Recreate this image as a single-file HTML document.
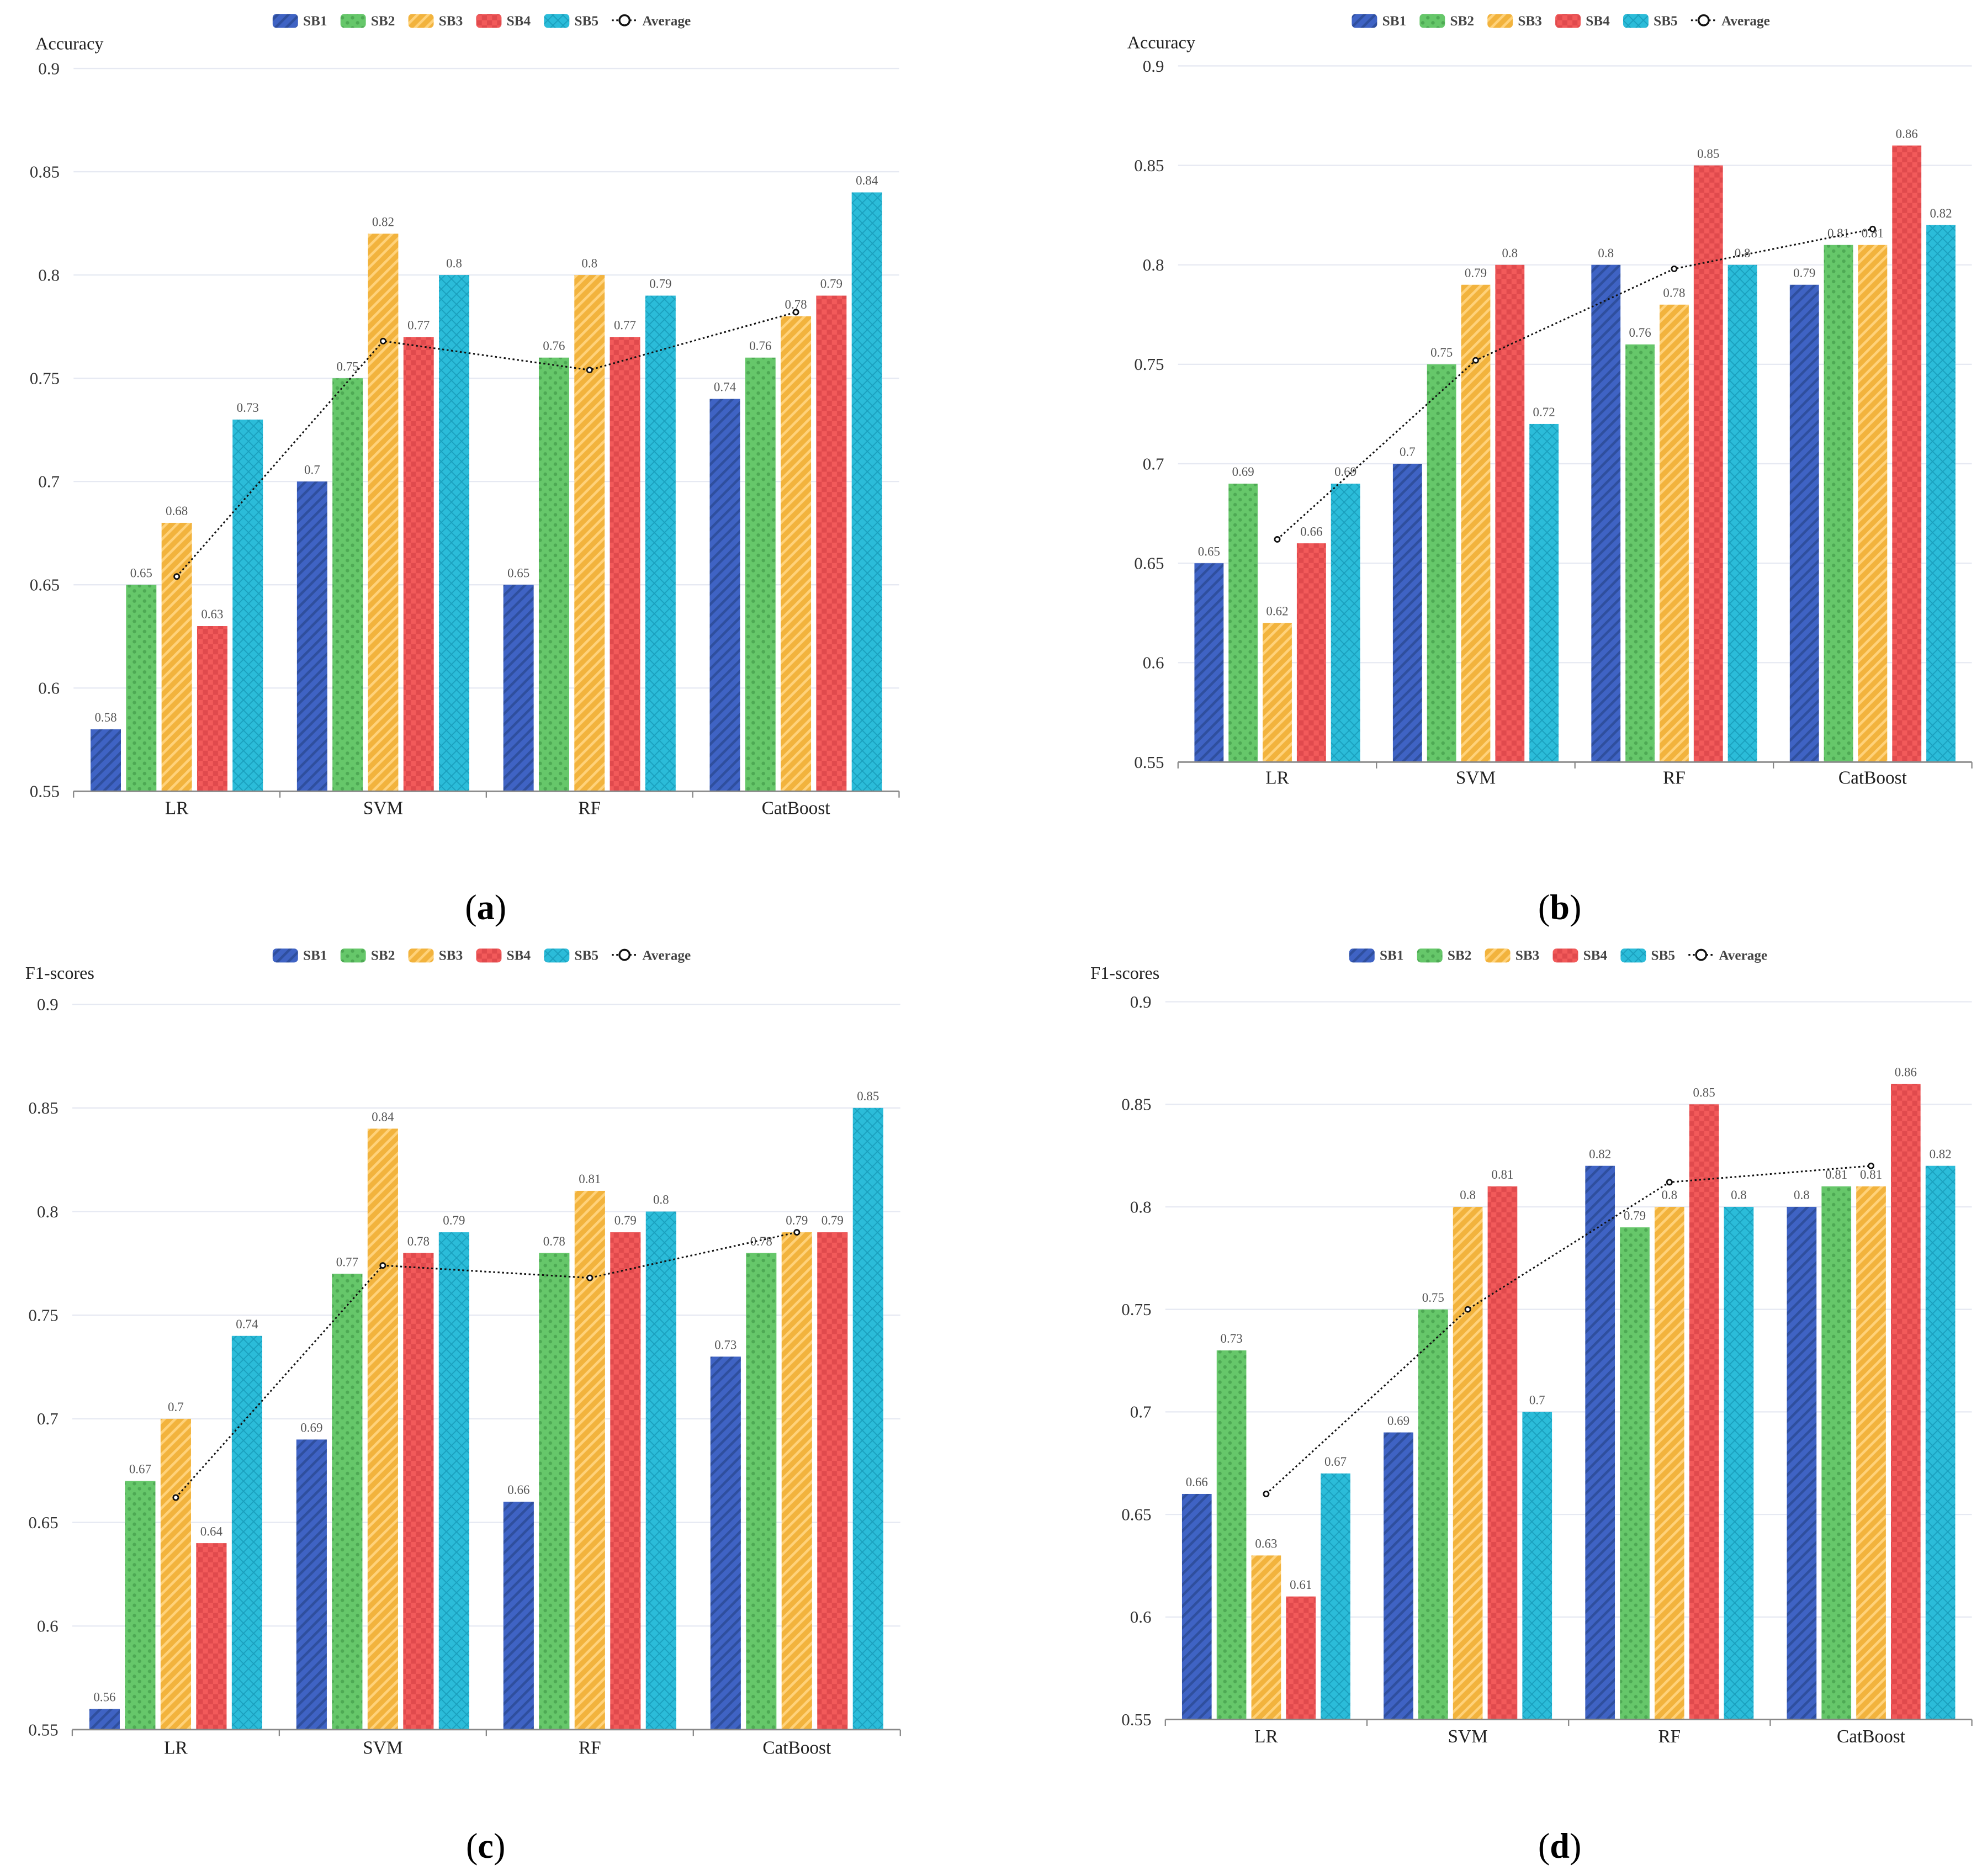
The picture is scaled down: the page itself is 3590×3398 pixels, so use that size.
<!DOCTYPE html>
<html><head><meta charset="utf-8"><style>
html,body{margin:0;padding:0;background:#fff;}
svg{display:block;}
svg text{font-family:"Liberation Serif","Times New Roman",serif;}
</style></head><body>
<svg id="fig" width="3590" height="3398" viewBox="0 0 1563 1479.4" xmlns="http://www.w3.org/2000/svg" font-family="Liberation Serif, serif">
<defs>
<pattern id="p0" width="6" height="6" patternUnits="userSpaceOnUse" patternTransform="rotate(-45)"><rect width="6" height="6" fill="#3f63c4"/><rect width="6" height="2" fill="#2f4f9e"/></pattern>
<pattern id="p1" width="8" height="8" patternUnits="userSpaceOnUse"><rect width="8" height="8" fill="#66c76a"/><circle cx="2" cy="2" r="1.4" fill="#4ea954"/><circle cx="6" cy="6" r="1.4" fill="#4ea954"/></pattern>
<pattern id="p2" width="6" height="6" patternUnits="userSpaceOnUse" patternTransform="rotate(45)"><rect width="6" height="6" fill="#f2b33d"/><rect width="2" height="6" fill="#ffd27a"/></pattern>
<pattern id="p3" width="8" height="8" patternUnits="userSpaceOnUse"><rect width="8" height="8" fill="#f25a5a"/><rect width="4" height="4" fill="#e04a4d"/><rect x="4" y="4" width="4" height="4" fill="#e04a4d"/></pattern>
<pattern id="p4" width="8" height="8" patternUnits="userSpaceOnUse"><rect width="8" height="8" fill="#2bbcd9"/><path d="M0 0L8 8M8 0L0 8" stroke="#1a9fbd" stroke-width="0.8"/></pattern>
</defs>
</svg>
<script>
const categories=["LR","SVM","RF","CatBoost"];
const seriesNames=["SB1","SB2","SB3","SB4","SB5"];
const ticks=[0.55,0.6,0.65,0.7,0.75,0.8,0.85,0.9];
const aSB1=[0.58,0.7,0.65,0.74],aSB2=[0.65,0.75,0.76,0.76],aSB3=[0.68,0.82,0.8,0.78],aSB4=[0.63,0.77,0.77,0.79],aSB5=[0.73,0.8,0.79,0.84],aAvg=[0.654,0.768,0.754,0.782];
const bSB1=[0.65,0.7,0.8,0.79],bSB2=[0.69,0.75,0.76,0.81],bSB3=[0.62,0.79,0.78,0.81],bSB4=[0.66,0.8,0.85,0.86],bSB5=[0.69,0.72,0.8,0.82],bAvg=[0.662,0.752,0.798,0.818];
const cSB1=[0.56,0.69,0.66,0.73],cSB2=[0.67,0.77,0.78,0.78],cSB3=[0.7,0.84,0.81,0.79],cSB4=[0.64,0.78,0.79,0.79],cSB5=[0.74,0.79,0.8,0.85],cAvg=[0.662,0.774,0.768,0.79];
const dSB1=[0.66,0.69,0.82,0.8],dSB2=[0.73,0.75,0.79,0.81],dSB3=[0.63,0.8,0.8,0.81],dSB4=[0.61,0.81,0.85,0.86],dSB5=[0.67,0.7,0.8,0.82],dAvg=[0.66,0.75,0.812,0.82];
const NS="http://www.w3.org/2000/svg";
const svg=document.getElementById('fig');
function mk(tag,attrs,parent,txt){const e=document.createElementNS(NS,tag);for(const k in attrs)e.setAttribute(k,attrs[k]);if(tag==='text')e.setAttribute('font-family','Liberation Serif, serif');if(txt!==undefined)e.textContent=txt;(parent||svg).appendChild(e);return e;}
const panels=[
 {id:'a',x0:58,x1:709,yTop:54,yBot:624,catY:637,title:'Accuracy',tx:28,ty:34,legY:16,legX:383,lab:'(a)',lx:383,ly:716,s:[aSB1,aSB2,aSB3,aSB4,aSB5],avg:aAvg},
 {id:'b',x0:929,x1:1555,yTop:52,yBot:601,catY:613,title:'Accuracy',tx:889,ty:33,legY:16,legX:1234,lab:'(b)',lx:1230,ly:716,s:[bSB1,bSB2,bSB3,bSB4,bSB5],avg:bAvg},
 {id:'c',x0:57,x1:710,yTop:792,yBot:1364,catY:1378,title:'F1-scores',tx:20,ty:767,legY:753,legX:383,lab:'(c)',lx:383,ly:1456,s:[cSB1,cSB2,cSB3,cSB4,cSB5],avg:cAvg},
 {id:'d',x0:919,x1:1555,yTop:790,yBot:1356,catY:1369,title:'F1-scores',tx:860,ty:767,legY:753,legX:1232,lab:'(d)',lx:1230,ly:1456,s:[dSB1,dSB2,dSB3,dSB4,dSB5],avg:dAvg}];
panels.forEach(p=>{
 const g=mk('g',{});
 
 
 const y=v=>p.yBot-(v-0.55)/(0.9-0.55)*(p.yBot-p.yTop);
 const gw=(p.x1-p.x0)/categories.length;
 ticks.forEach(t=>{
  if(t>0.55){const l=mk('line',{x1:p.x0,x2:p.x1,y1:y(t),y2:y(t),stroke:'#e6e9f2','stroke-width':1},g);
  }
  const tl=mk('text',{x:p.x0-11,y:y(t)+4.5,'text-anchor':'end','font-size':13.5,fill:'#333'},g,String(t));
  
 });
 const yt=mk('text',{x:p.tx,y:p.ty+5,'font-size':14,fill:'#222'},g,p.title);
 
 const bw=gw*0.147,gap=gw*0.025,m=(gw-5*bw-4*gap)/2;
 categories.forEach((c,i)=>{
  const gx=p.x0+i*gw;
  p.s.forEach((ser,k)=>{
   const bx=gx+m+k*(bw+gap),v=ser[i];
   const r=mk('rect',{x:bx,y:y(v),width:bw,height:p.yBot-y(v),fill:'url(#p'+k+')'},g);
   
   
   const vl=mk('text',{x:bx+bw/2,y:y(v)-6,'text-anchor':'middle','font-size':10,fill:'#555'},g,String(v));
   
  });
  const cl=mk('text',{x:gx+gw/2,y:p.catY+5,'text-anchor':'middle','font-size':14.5,fill:'#222'},g,c);
  
  const tk=mk('line',{x1:gx,x2:gx,y1:p.yBot,y2:p.yBot+5,stroke:'#888'},g);
  
 });
 const tk2=mk('line',{x1:p.x1,x2:p.x1,y1:p.yBot,y2:p.yBot+5,stroke:'#888'},g);
 
 const ax=mk('line',{x1:p.x0,x2:p.x1,y1:p.yBot,y2:p.yBot,stroke:'#888','stroke-width':1.2},g);
 
 const pts=p.avg.map((v,i)=>(p.x0+(i+0.5)*gw)+','+y(v)).join(' ');
 const pl=mk('polyline',{points:pts,fill:'none',stroke:'#111','stroke-width':1.3,'stroke-dasharray':'1.5 2'},g);
 
 p.avg.forEach((v,i)=>{
  const ci=mk('circle',{cx:p.x0+(i+0.5)*gw,cy:y(v),r:2,fill:'#fff',stroke:'#111','stroke-width':1.2},g);
  
 });
 const lg=mk('g',{},g);
 
 let lx=p.legX-168;
 seriesNames.forEach((n,k)=>{
  const e=mk('g',{},lg);
  
  
  mk('rect',{x:lx,y:p.legY-5,width:20,height:11,rx:3,fill:'url(#p'+k+')'},e);
  mk('text',{x:lx+24,y:p.legY+4,'font-size':11,'font-weight':'bold',fill:'#444'},e,n);
  lx+=53.5;
 });
 const e=mk('g',{},lg);
 
 
 mk('line',{x1:lx,x2:lx+20,y1:p.legY,y2:p.legY,stroke:'#111','stroke-width':1.3,'stroke-dasharray':'1.5 2'},e);
 mk('circle',{cx:lx+10,cy:p.legY,r:4,fill:'#fff',stroke:'#111','stroke-width':1.5},e);
 mk('text',{x:lx+24,y:p.legY+4,'font-size':11,'font-weight':'bold',fill:'#444'},e,'Average');
 const pl2=mk('text',{x:p.lx,y:p.ly+9,'text-anchor':'middle','font-size':28,fill:'#000'},svg);
 
 
 mk('tspan',{},pl2,'(');
 mk('tspan',{'font-weight':'bold'},pl2,p.id);
 mk('tspan',{},pl2,')');
});
</script>
</body></html>
